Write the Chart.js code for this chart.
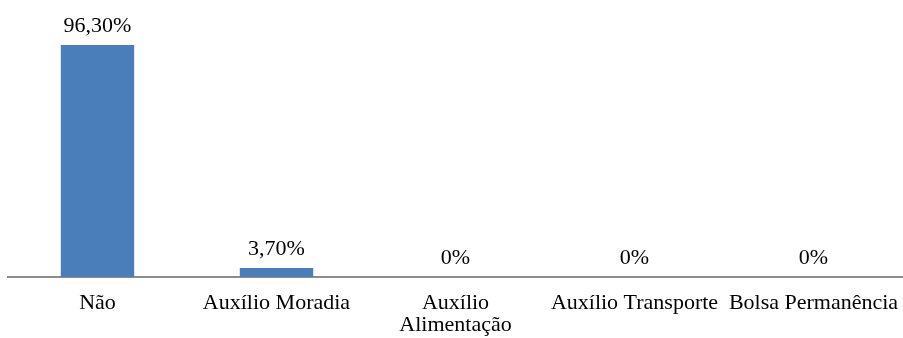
<!DOCTYPE html>
<html>
<head>
<meta charset="utf-8">
<script src="https://cdn.jsdelivr.net/npm/chart.js@4"></script>
<style>
  html, body { margin: 0; padding: 0; background: #fff; }
  #wrap { width: 903px; height: 338px; position: relative; }
</style>
</head>
<body>
<div id="wrap"><canvas id="chart"></canvas></div>
<script>
// Categories and values (percent)
const categories = ['Não', 'Auxílio Moradia', ['Auxílio', 'Alimentação'], 'Auxílio Transporte', 'Bolsa Permanência'];
const values = [96.30, 3.70, 0, 0, 0];
const valueLabels = ['96,30%', '3,70%', '0%', '0%', '0%'];

const fontFamily = '"Liberation Serif", "Times New Roman", serif';

// Draw value labels above each bar
const barLabels = {
    id: 'barLabels',
    afterDatasetsDraw(chart) {
        const ctx = chart.ctx;
        const meta = chart.getDatasetMeta(0);
        ctx.save();
        ctx.font = '22px ' + fontFamily;
        ctx.fillStyle = '#000';
        ctx.textAlign = 'center';
        ctx.textBaseline = 'middle';
        meta.data.forEach((bar, i) => {
            ctx.fillText(valueLabels[i], bar.x, bar.y - 19);
        });
        ctx.restore();
    }
};

new Chart(document.getElementById('chart'), {
    type: 'bar',
    data: {
        labels: categories,
        datasets: [{
            data: values,
            backgroundColor: '#4a7ebb',
            categoryPercentage: 1,
            barPercentage: 0.41
        }]
    },
    options: {
        responsive: true,
        maintainAspectRatio: false,
        animation: false,
        layout: { padding: { top: 36, left: 8, right: 0, bottom: 0 } },
        plugins: {
            legend: { display: false },
            tooltip: { enabled: false }
        },
        scales: {
            x: {
                grid: { display: false, drawTicks: false },
                border: { color: '#8c8c8c', width: 2 },
                afterFit(scale) {
                    scale.height = 61;
                    // let the last label overhang like in the original
                    scale.paddingLeft = 0;
                    scale.paddingRight = 0;
                },
                ticks: {
                    color: '#000',
                    font: { family: fontFamily, size: 22, lineHeight: 1.0 },
                    padding: 15,
                    autoSkip: false,
                    maxRotation: 0
                }
            },
            y: {
                display: false,
                min: 0,
                max: 100
            }
        }
    },
    plugins: [barLabels]
});
</script>
</body>
</html>
